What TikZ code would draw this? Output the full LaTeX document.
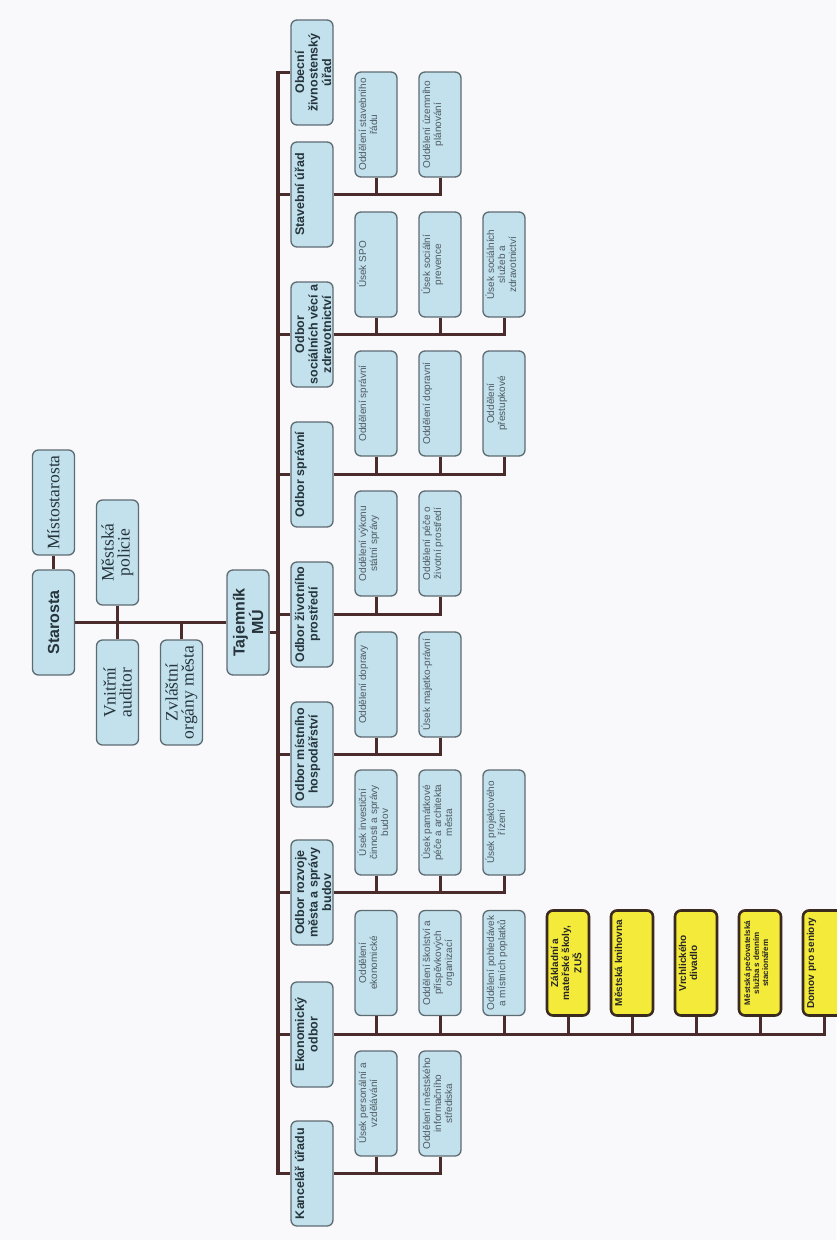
\documentclass[tikz,border=0pt]{standalone}
\usepackage{fontspec}
\setmainfont{Liberation Serif}
\setsansfont{Liberation Sans}
\usepackage{tikz}
\definecolor{paper}{HTML}{F9F9FB}
\definecolor{paleblue}{HTML}{C2E1EC}
\definecolor{boxline}{HTML}{5E6B73}
\definecolor{wire}{HTML}{4A2C2C}
\definecolor{orgyellow}{HTML}{F4EA3A}
\definecolor{orgline}{HTML}{3B2B1E}
\definecolor{depttext}{HTML}{26343C}
\definecolor{secttext}{HTML}{4E5A63}
\newcommand{\celltext}[1]{\begin{tabular}[t]{@{}c@{}}#1\end{tabular}}

\begin{document}
\begin{tikzpicture}[x=1pt, y=-1pt,
    box/.style={draw=boxline, line width=1.3pt, fill=paleblue, rounded corners=6pt, rotate=90,
                minimum width=105pt, minimum height=42pt, inner xsep=1pt, inner ysep=3pt,
                text=depttext},
    office/.style={box, align=center, font=\fontsize{17.5}{16}\selectfont},
    chief/.style={box, align=center, font=\sffamily\bfseries\fontsize{16}{15}\selectfont},
    dept/.style={box, text height=10pt, text depth=26pt,
                 font=\sffamily\bfseries\fontsize{12.5}{13.5}\selectfont},
    sect/.style={box, text=secttext, text height=8pt, text depth=28pt,
                 font=\sffamily\fontsize{10}{11}\selectfont},
    org/.style={sect, fill=orgyellow, draw=orgline, line width=2.6pt, text=black!85,
                font=\sffamily\bfseries\fontsize{10}{11}\selectfont},
    bus/.style={draw=wire, line width=3.5pt},
    link/.style={draw=wire, line width=3pt}]

        \path[use as bounding box, fill=paper] (0,0) rectangle (836,1240);

        % vedeni mesta
        \node[office] at (53.5, 502.5)  (misto) {Místostarosta};
        \node[chief]  at (53.5, 622.5)  (staro) {Starosta};
        \node[office] at (117.5, 552.5) (polic) {Městská\\policie};
        \node[office] at (117.5, 692.5) (audit) {Vnitřní\\auditor};
        \node[office] at (181.5, 692.5) (zvl)   {Zvláštní\\orgány města};
        \node[chief]  at (248, 622.5)   (taj)   {Tajemník\\MÚ};

        \draw[bus] (misto.west) -- (staro.east);
        \draw[bus] (staro.south) -- (taj.north);
        \draw[bus] (polic.west) -- (polic.west |- staro.south);
        \draw[bus] (audit.east) -- (audit.east |- staro.south);
        \draw[bus] (zvl.east) -- (zvl.east |- staro.south);

        % odbory
        \node[dept] at (312, 72.5)   (obec)  {\celltext{Obecní\\živnostenský\\úřad}};
        \node[dept] at (312, 194.5)  (stav)  {\celltext{Stavební úřad}};
        \node[dept] at (312, 334.5)  (soc)   {\celltext{Odbor\\sociálních věcí a\\zdravotnictví}};
        \node[dept] at (312, 474.5)  (sprav) {\celltext{Odbor správní}};
        \node[dept] at (312, 614.5)  (zivot) {\celltext{Odbor životního\\prostředí}};
        \node[dept] at (312, 754.5)  (mist)  {\celltext{Odbor místního\\hospodářství}};
        \node[dept] at (312, 892.5)  (rozv)  {\celltext{Odbor rozvoje\\města a správy\\budov}};
        \node[dept] at (312, 1034.5) (eko)   {\celltext{Ekonomický\\odbor}};
        \node[dept] at (312, 1173.5) (kanc)  {\celltext{Kancelář úřadu}};

        \coordinate (busx) at (278, 0);
        \draw[bus] (obec.north) -| (busx |- kanc.north) -- (kanc.north);
        \draw[bus] ([yshift=-10pt]taj.south) -- ([yshift=-10pt]taj.south -| busx);
        \draw[bus] (stav.north) -- (stav.north -| busx);
        \draw[bus] (soc.north) -- (soc.north -| busx);
        \draw[bus] (sprav.north) -- (sprav.north -| busx);
        \draw[bus] (zivot.north) -- (zivot.north -| busx);
        \draw[bus] (mist.north) -- (mist.north -| busx);
        \draw[bus] (rozv.north) -- (rozv.north -| busx);
        \draw[bus] (eko.north) -- (eko.north -| busx);

        % stavebni urad
        \node[sect] at (376, 124.5) (stav1) {\celltext{Oddělení stavebního\\řádu}};
        \node[sect] at (440, 124.5) (stav2) {\celltext{Oddělení územního\\plánování}};
        \draw[link] (stav.south) -| (stav2.west);
        \draw[link] (stav1.west) -- (stav1.west |- stav.south);

        % socialni veci
        \node[sect] at (376, 264.5) (soc1) {\celltext{Úsek SPO}};
        \node[sect] at (440, 264.5) (soc2) {\celltext{Úsek sociální\\prevence}};
        \node[sect] at (504, 264.5) (soc3) {\celltext{Úsek sociálních\\služeb a\\zdravotnictví}};
        \draw[link] (soc.south) -| (soc3.west);
        \draw[link] (soc1.west) -- (soc1.west |- soc.south);
        \draw[link] (soc2.west) -- (soc2.west |- soc.south);

        % spravni
        \node[sect] at (376, 403.5) (sprav1) {\celltext{Oddělení správní}};
        \node[sect] at (440, 403.5) (sprav2) {\celltext{Oddělení dopravní}};
        \node[sect] at (504, 403.5) (sprav3) {\celltext{Oddělení\\přestupkové}};
        \draw[link] (sprav.south) -| (sprav3.west);
        \draw[link] (sprav1.west) -- (sprav1.west |- sprav.south);
        \draw[link] (sprav2.west) -- (sprav2.west |- sprav.south);

        % zivotni prostredi
        \node[sect] at (376, 543.5) (zivot1) {\celltext{Oddělení výkonu\\státní správy}};
        \node[sect] at (440, 543.5) (zivot2) {\celltext{Oddělení péče o\\životní prostředí}};
        \draw[link] (zivot.south) -| (zivot2.west);
        \draw[link] (zivot1.west) -- (zivot1.west |- zivot.south);

        % mistni hospodarstvi
        \node[sect] at (376, 684.5) (mist1) {\celltext{Oddělení dopravy}};
        \node[sect] at (440, 684.5) (mist2) {\celltext{Úsek majetko-právní}};
        \draw[link] (mist.south) -| (mist2.west);
        \draw[link] (mist1.west) -- (mist1.west |- mist.south);

        % rozvoj mesta
        \node[sect] at (376, 822.5) (rozv1) {\celltext{Úsek investiční\\činnosti a správy\\budov}};
        \node[sect] at (440, 822.5) (rozv2) {\celltext{Úsek památkové\\péče a architekta\\města}};
        \node[sect] at (504, 822.5) (rozv3) {\celltext{Úsek projektového\\řízení}};
        \draw[link] (rozv.south) -| (rozv3.west);
        \draw[link] (rozv1.west) -- (rozv1.west |- rozv.south);
        \draw[link] (rozv2.west) -- (rozv2.west |- rozv.south);

        % ekonomicky odbor a organizace
        \node[sect] at (376, 963) (eko1) {\celltext{Oddělení\\ekonomické}};
        \node[sect] at (440, 963) (eko2) {\celltext{Oddělení školství a\\příspěvkových\\organizací}};
        \node[sect] at (504, 963) (eko3) {\celltext{Oddělení pohledávek\\a místních poplatků}};
        \node[org]  at (568, 963) (zs)   {\celltext{Základní a\\mateřské školy,\\ZUŠ}};
        \node[org]  at (632, 963) (knih) {\celltext{Městská knihovna}};
        \node[org]  at (696, 963) (div)  {\celltext{Vrchlického\\divadlo}};
        \node[org, font=\sffamily\bfseries\fontsize{8}{9}\selectfont]
                    at (760, 963) (pec)  {\celltext{Městská pečovatelská\\služba s denním\\stacionářem}};
        \node[org]  at (824, 963) (dps)  {\celltext{Domov pro seniory}};
        \draw[link] (eko.south) -| (dps.west);
        \draw[link] (eko1.west) -- (eko1.west |- eko.south);
        \draw[link] (eko2.west) -- (eko2.west |- eko.south);
        \draw[link] (eko3.west) -- (eko3.west |- eko.south);
        \draw[link] (zs.west) -- (zs.west |- eko.south);
        \draw[link] (knih.west) -- (knih.west |- eko.south);
        \draw[link] (div.west) -- (div.west |- eko.south);
        \draw[link] (pec.west) -- (pec.west |- eko.south);

        % kancelar uradu
        \node[sect] at (376, 1103.5) (kanc1) {\celltext{Úsek personální a\\vzdělávání}};
        \node[sect] at (440, 1103.5) (kanc2) {\celltext{Oddělení městského\\informačního\\střediska}};
        \draw[link] (kanc.south) -| (kanc2.west);
        \draw[link] (kanc1.west) -- (kanc1.west |- kanc.south);
    \end{tikzpicture}
\end{document}
